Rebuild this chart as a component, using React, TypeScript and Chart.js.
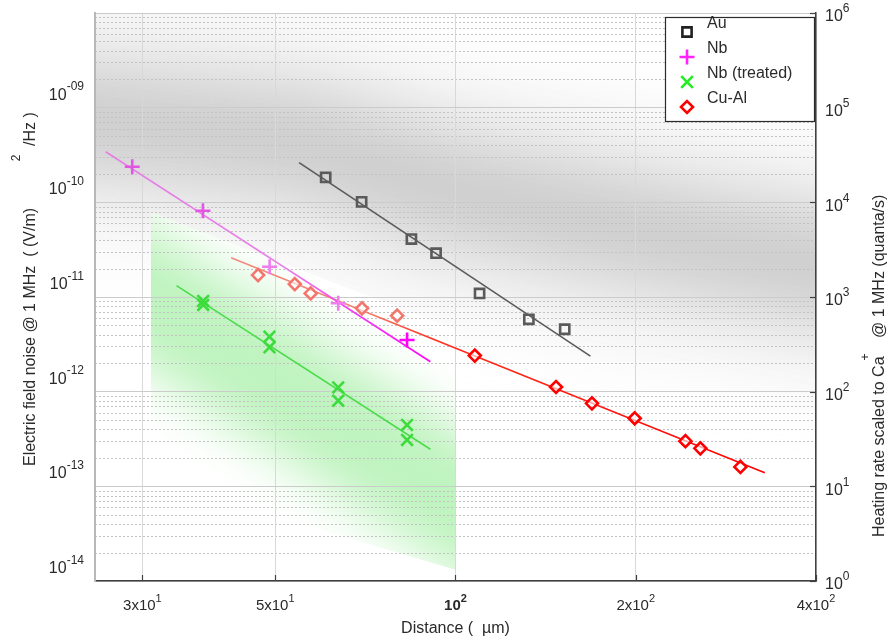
import React, { useEffect, useRef } from "react";
import { Chart, registerables } from "chart.js";

Chart.register(...registerables);

// ---------------- data (distance in µm, noise in (V/m)^2/Hz) ----------------
const auDistance = [60.7, 69.7, 84.4, 92.8, 109.7, 132.6, 152.2];
const auNoise = [1.26e-10, 6.93e-11, 2.81e-11, 1.99e-11, 7.48e-12, 3.99e-12, 3.13e-12];
const auFitDistance = [54.8, 168.0];
const auFitNoise = [1.8e-10, 1.63e-12];

const nbDistance = [28.85, 37.86, 48.93, 63.7, 83.0];
const nbNoise = [1.63e-10, 5.6e-11, 1.43e-11, 5.89e-12, 2.41e-12];
const nbFitDistance = [26.05, 90.8];
const nbFitNoise = [2.35e-10, 1.42e-12];

const nbTreatedDistance = [37.9, 37.9, 48.9, 48.9, 63.7, 63.7, 83.0, 83.0];
const nbTreatedNoise = [6.23e-12, 5.65e-12, 2.61e-12, 2.02e-12, 7.61e-13, 5.51e-13, 3.05e-13, 2.12e-13];
const nbTreatedFitDistance = [34.2, 90.8];
const nbTreatedFitNoise = [9.06e-12, 1.69e-13];

const cuAlDistance = [46.8, 53.9, 57.3, 69.8, 79.9, 107.7, 147.2, 169.0, 199.2, 242.1, 256.4, 299.1];
const cuAlNoise = [1.17e-11, 9.4e-12, 7.48e-12, 5.21e-12, 4.36e-12, 1.65e-12, 7.68e-13, 5.17e-13, 3.59e-13, 2.06e-13, 1.73e-13, 1.1e-13];
const cuAlFitDistance = [42.2, 328.5];
const cuAlFitNoise = [1.78e-11, 9.54e-14];

const seriesLabels = ["Au", "Nb", "Nb (treated)", "Cu-Al"];

// axes
const X_MIN = 25;
const X_MAX = 400;
const xTicks = [30, 50, 100, 200, 400];
const xTickBase = ["3x10", "5x10", "10", "2x10", "4x10"];
const xTickExp = ["1", "1", "2", "2", "2"];

const RATE_MIN = 1;
const RATE_MAX = 1e6;
const NOISE_PER_QUANTUM = 6.86e-15; // Ca+ @ 1 MHz: S_E per (quanta/s)
const rateTicks = [1, 10, 100, 1e3, 1e4, 1e5, 1e6];
const rateTickExp = ["0", "1", "2", "3", "4", "5", "6"];
const noiseTicks = [1e-14, 1e-13, 1e-12, 1e-11, 1e-10, 1e-9];
const noiseTickExp = ["-14", "-13", "-12", "-11", "-10", "-09"];

// background shading anchors
const grayBandDistance = [25, 54.7, 97.5, 202, 400];
const grayBandRate = [7.5e4, 4.4e4, 1.35e4, 5.1e3, 2.2e3];
const greenZoneDistance = [31, 100, 100, 31];
const greenZoneNoise = [5.42e-11, 3.1e-12, 9e-15, 8e-14];
const greenGlowDistance = [31, 100];
const greenGlowNoise = [6.4e-12, 4.9e-14];

// ---------------- styles ----------------
const FONT = '"Liberation Sans", Arial, Helvetica, sans-serif';
const TEXT = "#2a2a2a";
const AU = "#5a5a5a";
const NB = "#ff22ff";
const NBT = "#3ddc3d";
const CU = "#ff0000";

const nbPointColors = ["#e455e4", "#e455e4", "#f07cf0", "#f07cf0", "#ff00ff"];
const cuPointColors = ["#f3766c", "#f3766c", "#f3766c", "#f3766c", "#f3766c", CU, CU, CU, CU, CU, CU, CU];

function pts(xs: number[], ys: number[]) {
  return xs.map((x, i) => ({ x, y: ys[i] }));
}

function drawPow(ctx: CanvasRenderingContext2D, base: string, exp: string, x: number, y: number, align: string, size: number, bold = false) {
  const bf = `${bold ? "bold " : ""}${size}px ${FONT}`;
  const ef = `${bold ? "bold " : ""}${Math.round(size * 0.72)}px ${FONT}`;
  ctx.font = bf;
  const wb = ctx.measureText(base).width;
  ctx.font = ef;
  const we = ctx.measureText(exp).width;
  const total = wb + we;
  const sx = align === "right" ? x - total : align === "center" ? x - total / 2 : x;
  ctx.textAlign = "left";
  ctx.textBaseline = "middle";
  ctx.fillStyle = TEXT;
  ctx.font = bf;
  ctx.fillText(base, sx, y);
  ctx.font = ef;
  ctx.fillText(exp, sx + wb, y - size * 0.5);
}

function lineGradient(ctx: any, xs: number[], stops: [number, string][], fallback: string) {
  const chart = ctx.chart;
  if (!chart.chartArea || !chart.scales.x) return fallback;
  const sx = chart.scales.x;
  const g = chart.ctx.createLinearGradient(sx.getPixelForValue(xs[0]), 0, sx.getPixelForValue(xs[1]), 0);
  stops.forEach(([o, c]) => g.addColorStop(o, c));
  return g;
}

function strokeExtended(ctx: CanvasRenderingContext2D, p: [number, number][], ext: number) {
  const a = p[0], b = p[1];
  const n = p.length;
  const c = p[n - 2], d = p[n - 1];
  const l1 = Math.hypot(b[0] - a[0], b[1] - a[1]);
  const l2 = Math.hypot(d[0] - c[0], d[1] - c[1]);
  ctx.beginPath();
  ctx.moveTo(a[0] - ((b[0] - a[0]) / l1) * ext, a[1] - ((b[1] - a[1]) / l1) * ext);
  p.forEach((q) => ctx.lineTo(q[0], q[1]));
  ctx.lineTo(d[0] + ((d[0] - c[0]) / l2) * ext, d[1] + ((d[1] - c[1]) / l2) * ext);
  ctx.stroke();
}

function drawMarker(ctx: CanvasRenderingContext2D, kind: string, x: number, y: number, color: string) {
  ctx.save();
  ctx.strokeStyle = color;
  ctx.lineWidth = 2.6;
  ctx.beginPath();
  if (kind === "rect") {
    ctx.rect(x - 4.6, y - 4.6, 9.2, 9.2);
  } else if (kind === "cross") {
    ctx.moveTo(x - 7.5, y); ctx.lineTo(x + 7.5, y);
    ctx.moveTo(x, y - 7.5); ctx.lineTo(x, y + 7.5);
  } else if (kind === "crossRot") {
    ctx.moveTo(x - 5.8, y - 5.8); ctx.lineTo(x + 5.8, y + 5.8);
    ctx.moveTo(x + 5.8, y - 5.8); ctx.lineTo(x - 5.8, y + 5.8);
  } else {
    ctx.moveTo(x - 6, y); ctx.lineTo(x, y - 6); ctx.lineTo(x + 6, y); ctx.lineTo(x, y + 6); ctx.closePath();
  }
  ctx.stroke();
  ctx.restore();
}

const decorPlugin = {
  id: "decor",
  beforeDraw(chart: any) {
    const { ctx, chartArea: a, scales } = chart;
    const sx = scales.x, syl = scales.y, syr = scales.y2;
    ctx.save();
    ctx.fillStyle = "#ffffff";
    ctx.fillRect(0, 0, chart.width, chart.height);
    ctx.beginPath();
    ctx.rect(a.left, a.top, a.right - a.left, a.bottom - a.top);
    ctx.clip();

    const band: [number, number][] = grayBandDistance.map((d, i) => [sx.getPixelForValue(d), syr.getPixelForValue(grayBandRate[i])]);
    ctx.lineCap = "butt";
    ctx.lineJoin = "round";
    // faint halo
    ctx.filter = "blur(40px)";
    ctx.strokeStyle = "rgba(215,215,215,0.45)";
    ctx.lineWidth = 210;
    strokeExtended(ctx, band, 200);
    // core band
    ctx.filter = "blur(30px)";
    ctx.strokeStyle = "rgba(175,175,175,0.5)";
    ctx.lineWidth = 100;
    strokeExtended(ctx, band, 200);
    ctx.filter = "none";

    // green zone
    ctx.save();
    ctx.beginPath();
    greenZoneDistance.forEach((d, i) => {
      const px = sx.getPixelForValue(d), py = syl.getPixelForValue(greenZoneNoise[i]);
      if (i === 0) ctx.moveTo(px, py); else ctx.lineTo(px, py);
    });
    ctx.closePath();
    ctx.clip();
    ctx.fillStyle = "rgba(255,255,255,0.92)";
    ctx.fillRect(a.left, a.top, a.right - a.left, a.bottom - a.top);
    const glow: [number, number][] = greenGlowDistance.map((d, i) => [sx.getPixelForValue(d), syl.getPixelForValue(greenGlowNoise[i])]);
    ctx.filter = "blur(26px)";
    ctx.strokeStyle = "rgba(150,235,150,0.62)";
    ctx.lineWidth = 120;
    strokeExtended(ctx, glow, 150);
    ctx.filter = "none";
    ctx.restore();

    // minor dotted grid of the right axis
    ctx.strokeStyle = "#c2c2c2";
    ctx.lineWidth = 1;
    ctx.setLineDash([2, 2]);
    for (let k = 0; k < 6; k++) {
      for (let m = 2; m <= 9; m++) {
        const py = Math.round(syr.getPixelForValue(m * Math.pow(10, k))) + 0.5;
        ctx.beginPath();
        ctx.moveTo(a.left, py);
        ctx.lineTo(a.right, py);
        ctx.stroke();
      }
    }
    ctx.setLineDash([]);
    ctx.restore();
  },
  afterDraw(chart: any) {
    const { ctx, chartArea: a, scales } = chart;
    const sx = scales.x, syl = scales.y, syr = scales.y2;
    ctx.save();
    // inward ticks
    ctx.strokeStyle = "#404040";
    ctx.lineWidth = 1.2;
    xTicks.forEach((v) => {
      const px = Math.round(sx.getPixelForValue(v)) + 0.5;
      ctx.beginPath(); ctx.moveTo(px, a.bottom); ctx.lineTo(px, a.bottom - 6); ctx.stroke();
    });
    rateTicks.forEach((v) => {
      const py = Math.round(syr.getPixelForValue(v)) + 0.5;
      ctx.beginPath(); ctx.moveTo(a.right, py); ctx.lineTo(a.right - 6, py); ctx.stroke();
    });

    // tick labels
    xTicks.forEach((v, i) => {
      drawPow(ctx, xTickBase[i], xTickExp[i], sx.getPixelForValue(v), a.bottom + 25, "center", 15, v === 100);
    });
    noiseTicks.forEach((v, i) => {
      drawPow(ctx, "10", noiseTickExp[i], 84, syl.getPixelForValue(v) + 3, "right", 16);
    });
    rateTicks.forEach((v, i) => {
      drawPow(ctx, "10", rateTickExp[i], a.right + 9, syr.getPixelForValue(v) + 4, "left", 16);
    });

    // axis titles
    ctx.fillStyle = TEXT;
    ctx.textBaseline = "middle";
    ctx.font = `16px ${FONT}`;
    ctx.textAlign = "center";
    ctx.fillText("Distance (  µm)", (a.left + a.right) / 2, 629);

    const rot = (x: number, y: number, text: string, size: number, align: CanvasTextAlign) => {
      ctx.save();
      ctx.translate(x, y);
      ctx.rotate(-Math.PI / 2);
      ctx.font = `${size}px ${FONT}`;
      ctx.textAlign = align;
      ctx.fillText(text, 0, 0);
      ctx.restore();
    };
    rot(31, 466, "Electric field noise @ 1 MHz  ( (V/m)", 16, "left");
    rot(17, 158, "2", 12, "center");
    rot(31, 146, "/Hz )", 16, "left");

    rot(880, 537, "Heating rate scaled to Ca", 16, "left");
    rot(866, 357, "+", 12, "center");
    rot(880, 338, "@ 1 MHz (quanta/s)", 16, "left");

    // legend
    const L = 665, T = 17, R = 814, B = 121;
    ctx.fillStyle = "#ffffff";
    ctx.fillRect(L, T, R - L, B - T);
    ctx.strokeStyle = "#2a2a2a";
    ctx.lineWidth = 1.2;
    ctx.strokeRect(L + 0.5, T + 0.5, R - L, B - T);
    const kinds = ["rect", "cross", "crossRot", "rectRot"];
    const colors = ["#222222", NB, "#22ee22", CU];
    seriesLabels.forEach((lab, i) => {
      const my = 32 + 25 * i;
      drawMarker(ctx, kinds[i], 687, my, colors[i]);
      ctx.fillStyle = TEXT;
      ctx.font = `16px ${FONT}`;
      ctx.textAlign = "left";
      ctx.textBaseline = "middle";
      ctx.fillText(lab, 707, my - 8);
    });
    ctx.restore();
  },
};

export default function App() {
  const ref = useRef<HTMLCanvasElement>(null);
  useEffect(() => {
    const canvas = ref.current;
    if (!canvas) return;
    const chart = new Chart(canvas, {
      type: "scatter",
      data: {
        datasets: [
          {
            label: seriesLabels[0], data: pts(auDistance, auNoise), yAxisID: "y", order: 0,
            showLine: false, pointStyle: "rect", pointRadius: 6.5, pointBorderWidth: 2.6,
            pointBorderColor: AU, pointBackgroundColor: "rgba(0,0,0,0)",
          },
          {
            label: seriesLabels[1], data: pts(nbDistance, nbNoise), yAxisID: "y", order: 0,
            showLine: false, pointStyle: "cross", pointRadius: 7.5, pointBorderWidth: 2.6,
            pointBorderColor: nbPointColors, pointBackgroundColor: nbPointColors,
          },
          {
            label: seriesLabels[2], data: pts(nbTreatedDistance, nbTreatedNoise), yAxisID: "y", order: 0,
            showLine: false, pointStyle: "crossRot", pointRadius: 8.2, pointBorderWidth: 2.6,
            pointBorderColor: NBT, pointBackgroundColor: NBT,
          },
          {
            label: seriesLabels[3], data: pts(cuAlDistance, cuAlNoise), yAxisID: "y", order: 0,
            showLine: false, pointStyle: "rectRot", pointRadius: 6, pointBorderWidth: 2.6,
            pointBorderColor: cuPointColors, pointBackgroundColor: "rgba(255,255,255,0.6)",
          },
          {
            label: "Au fit", data: pts(auFitDistance, auFitNoise), yAxisID: "y", order: 1,
            showLine: true, pointRadius: 0, borderWidth: 1.6, borderColor: AU,
          },
          {
            label: "Nb fit", data: pts(nbFitDistance, nbFitNoise), yAxisID: "y", order: 1,
            showLine: true, pointRadius: 0, borderWidth: 1.6,
            borderColor: (c: any) => lineGradient(c, nbFitDistance, [[0, "#e57ee5"], [0.55, "#e884e8"], [0.75, "#f040f0"], [1, "#ff00ff"]], NB),
          },
          {
            label: "Nb (treated) fit", data: pts(nbTreatedFitDistance, nbTreatedFitNoise), yAxisID: "y", order: 1,
            showLine: true, pointRadius: 0, borderWidth: 1.6, borderColor: "#4cdc4c",
          },
          {
            label: "Cu-Al fit", data: pts(cuAlFitDistance, cuAlFitNoise), yAxisID: "y", order: 1,
            showLine: true, pointRadius: 0, borderWidth: 1.6,
            borderColor: (c: any) => lineGradient(c, cuAlFitDistance, [[0, "#f28a80"], [0.25, "#f38070"], [0.38, "#ff3020"], [1, "#ff0000"]], CU),
          },
        ],
      },
      options: {
        responsive: false,
        animation: false,
        devicePixelRatio: 1,
        layout: { padding: { top: 13, left: 0, right: 0, bottom: 0 } },
        plugins: { legend: { display: false }, tooltip: { enabled: false } },
        scales: {
          x: {
            type: "logarithmic", position: "bottom", min: X_MIN, max: X_MAX,
            afterBuildTicks: (s: any) => { s.ticks = xTicks.map((v) => ({ value: v })); },
            afterFit: (s: any) => { s.height = 61; },
            ticks: { display: false },
            grid: { color: "#d8d8d8", lineWidth: 1, drawTicks: false },
            border: { color: "#404040", width: 1.5 },
          },
          y: {
            type: "logarithmic", position: "left",
            min: RATE_MIN * NOISE_PER_QUANTUM, max: RATE_MAX * NOISE_PER_QUANTUM,
            afterBuildTicks: (s: any) => { s.ticks = noiseTicks.map((v) => ({ value: v })); },
            afterFit: (s: any) => { s.width = 95; },
            ticks: { display: false },
            grid: { display: false, drawTicks: false },
            border: { color: "#b8b8b8", width: 2 },
          },
          y2: {
            type: "logarithmic", position: "right", min: RATE_MIN, max: RATE_MAX,
            afterBuildTicks: (s: any) => { s.ticks = rateTicks.map((v) => ({ value: v })); },
            afterFit: (s: any) => { s.width = 75; },
            ticks: { display: false },
            grid: { color: "#cbcbcb", lineWidth: 1, drawTicks: false },
            border: { color: "#404040", width: 1.5 },
          },
        },
      },
      plugins: [decorPlugin],
    } as any);
    return () => chart.destroy();
  }, []);
  return (
    <div style={{ position: "fixed", left: 0, top: 0, width: 891, height: 642, background: "#fff" }}>
      <canvas ref={ref} width={891} height={642} style={{ display: "block", width: 891, height: 642 }} />
    </div>
  );
}
